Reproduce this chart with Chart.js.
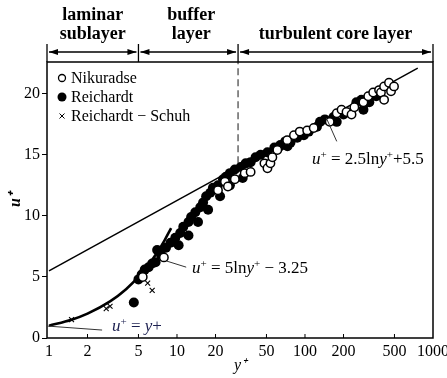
<!DOCTYPE html>
<html>
<head>
<meta charset="utf-8">
<script src="https://cdn.jsdelivr.net/npm/chart.js@4.4.0/dist/chart.umd.min.js"></script>
<style>
body { margin: 0; background: #fff; }
canvas { display: block; }
</style>
</head>
<body>
<canvas id="chart" width="447" height="378"></canvas>
<script>
let xTicks = [1, 2, 5, 10, 20, 50, 100, 200, 500, 1000];
let yTicks = [0, 5, 10, 15, 20];

// [y+, u+]
let nikuradse = [[5.4, 5.0], [7.9, 6.6], [20.9, 12.1], [23.7, 12.8], [25, 12.4], [28.3, 13.0],
    [33.8, 13.5], [37.6, 13.6], [48.2, 14.3], [50.9, 13.9], [53.7, 14.3], [55.6, 14.8],
    [60.8, 15.4], [72.6, 16.2], [82, 16.6], [91, 16.9], [104, 17.0], [117, 17.2],
    [156, 17.7], [177, 18.4], [193, 18.7], [211, 18.5], [231, 18.3], [243, 18.9],
    [286, 19.3], [312, 19.8], [341, 20.1], [379, 20.3], [392, 20.1], [415, 20.6],
    [415, 19.5], [453, 20.9], [470, 20.2], [496, 20.6]];

let reichardt = [[4.6, 2.9], [5.0, 4.8], [5.3, 5.2], [5.6, 5.6], [6.0, 5.8], [6.4, 6.1],
    [6.8, 6.2], [7.0, 7.2], [7.5, 6.8], [8.2, 7.4], [8.9, 7.8], [9.7, 8.2], [10.3, 7.6],
    [10.6, 8.6], [11.2, 9.1], [12.3, 9.5], [12.3, 8.4], [12.9, 9.9], [13.9, 10.3],
    [14.6, 9.5], [15.2, 10.7], [16, 11.1], [16.9, 11.6], [17.5, 10.5], [18.2, 11.9],
    [19.1, 12.3], [20.9, 12.5], [21.7, 11.6], [22.9, 13.0], [24.1, 13.2], [25.9, 13.5],
    [25.9, 12.5], [28.3, 13.8], [31.5, 14.0], [32.6, 13.1], [34.4, 14.3], [37.6, 14.4],
    [41.1, 14.8], [45, 15.0], [50.9, 15.2], [57.6, 15.6], [64, 15.7], [64.1, 15.8],
    [70.1, 16.1], [73, 15.7], [77, 16.0], [87, 16.4], [98, 16.6], [107, 16.9],
    [124, 17.3], [131, 17.7], [143, 17.9], [167, 18.1], [177, 17.7], [200, 18.3],
    [252, 19.3], [276, 19.5], [286, 18.7], [301, 19.3], [318, 19.3], [360, 19.8]];

let reichardtSchuh = [[1.5, 1.5], [2.8, 2.4], [3.0, 2.6], [5.9, 4.5], [6.4, 3.9]];

let laminarLine = [[1, 1], [1.5, 1.5], [2, 2], [3, 3], [4, 4], [5, 5], [6, 6], [7, 7], [8, 8], [9, 9]];
let logLawLine = [[1, 5.5], [760, 22.1]];
let dividerLine = [[30, 14.3], [30, 22.6]];

let zoneNames = [["laminar", "sublayer"], ["buffer", "layer"], ["turbulent core layer"]];
let zoneEdges = [0.965, 5, 30, 1000];

const serif = '"Liberation Serif", "Times New Roman", serif';

function toPoints(arr) {
    return arr.map(p => ({ x: p[0], y: p[1] }));
}

function drawArrowHead(ctx, x, y, dir) {
    ctx.beginPath();
    ctx.moveTo(x, y);
    ctx.lineTo(x - dir * 9, y - 3);
    ctx.lineTo(x - dir * 9, y + 3);
    ctx.closePath();
    ctx.fill();
}

function drawEquation(ctx, parts, x, y, color) {
    ctx.fillStyle = color;
    ctx.textBaseline = "alphabetic";
    ctx.textAlign = "left";
    parts.forEach(p => {
        let size = p.sup ? 11 : 17;
        ctx.font = (p.it ? "italic " : "") + size + "px " + serif;
        ctx.fillText(p.t, x, p.sup ? y - 6 : y);
        x += ctx.measureText(p.t).width;
    });
}

const decor = {
    id: "decor",
    afterDatasetsDraw(chart) {
        let ctx = chart.ctx;
        let a = chart.chartArea;
        let xs = chart.scales.x;
        let ys = chart.scales.y;
        ctx.save();

        // frame
        ctx.strokeStyle = "#000";
        ctx.lineWidth = 1.5;
        ctx.strokeRect(a.left, a.top, a.right - a.left, a.bottom - a.top);

        // inward x ticks
        ctx.lineWidth = 1;
        xTicks.forEach(v => {
            let px = xs.getPixelForValue(v);
            if (px > a.left + 2 && px < a.right - 2) {
                ctx.beginPath();
                ctx.moveTo(px, a.bottom);
                ctx.lineTo(px, a.bottom - 4);
                ctx.stroke();
            }
        });

        // zone arrows on top
        let ay = 52;
        ctx.fillStyle = "#000";
        ctx.lineWidth = 1.3;
        let edgePx = zoneEdges.map(v => xs.getPixelForValue(v));
        edgePx.forEach(px => {
            ctx.beginPath();
            ctx.moveTo(px, 44);
            ctx.lineTo(px, a.top);
            ctx.stroke();
        });
        for (let i = 0; i < edgePx.length - 1; i++) {
            let l = edgePx[i] + 2, r = edgePx[i + 1] - 2;
            ctx.beginPath();
            ctx.moveTo(l, ay);
            ctx.lineTo(r, ay);
            ctx.stroke();
            drawArrowHead(ctx, l, ay, -1);
            drawArrowHead(ctx, r, ay, 1);
        }

        // zone names
        ctx.font = "bold 18px " + serif;
        ctx.textAlign = "center";
        ctx.textBaseline = "alphabetic";
        zoneNames.forEach((lines, i) => {
            let cx = (edgePx[i] + edgePx[i + 1]) / 2;
            if (i == 1) cx += 3;
            let y0 = lines.length == 2 ? 20 : 39;
            lines.forEach((t, k) => ctx.fillText(t, cx, y0 + k * 19));
        });

        // legend
        let lx = 62;
        let legendY = [78, 97, 116];
        ctx.lineWidth = 1.3;
        ctx.beginPath();
        ctx.arc(lx, legendY[0], 3.5, 0, Math.PI * 2);
        ctx.fillStyle = "#fff";
        ctx.fill();
        ctx.stroke();
        ctx.beginPath();
        ctx.arc(lx, legendY[1], 4.5, 0, Math.PI * 2);
        ctx.fillStyle = "#000";
        ctx.fill();
        ctx.lineWidth = 1;
        ctx.beginPath();
        ctx.moveTo(lx - 2.5, legendY[2] - 2.5); ctx.lineTo(lx + 2.5, legendY[2] + 2.5);
        ctx.moveTo(lx + 2.5, legendY[2] - 2.5); ctx.lineTo(lx - 2.5, legendY[2] + 2.5);
        ctx.stroke();
        ctx.font = "16px " + serif;
        ctx.textAlign = "left";
        ctx.textBaseline = "middle";
        chart.data.datasets.slice(0, 3).forEach((d, i) => {
            ctx.fillText(d.label, lx + 9, legendY[i] + 1);
        });

        // leader lines
        ctx.strokeStyle = "#333";
        ctx.lineWidth = 1;
        [[[0.965, 0.98], [2.6, 0.65]], [[8.3, 6.3], [11.8, 5.8]], [[147, 18.0], [177, 16.1]]].forEach(s => {
            ctx.beginPath();
            ctx.moveTo(xs.getPixelForValue(s[0][0]), ys.getPixelForValue(s[0][1]));
            ctx.lineTo(xs.getPixelForValue(s[1][0]), ys.getPixelForValue(s[1][1]));
            ctx.stroke();
        });

        // equations
        drawEquation(ctx, [{ t: "u", it: true }, { t: "+", sup: true }, { t: " = " }, { t: "y", it: true }, { t: "+" }],
            112, 331, "#1c2050");
        drawEquation(ctx, [{ t: "u", it: true }, { t: "+", sup: true }, { t: " = 5ln" }, { t: "y", it: true }, { t: "+", sup: true }, { t: " \u2212 3.25" }],
            192, 273, "#000");
        drawEquation(ctx, [{ t: "u", it: true }, { t: "+", sup: true }, { t: " = 2.5ln" }, { t: "y", it: true }, { t: "+", sup: true }, { t: "+5.5" }],
            312, 164, "#000");

        ctx.restore();
    }
};

function createChart() {
    let ctx = document.getElementById("chart");
    new Chart(ctx, {
        type: "scatter",
        data: {
            datasets: [{
                label: "Nikuradse",
                data: toPoints(nikuradse),
                pointStyle: "circle",
                pointRadius: 4.2,
                backgroundColor: "#fff",
                borderColor: "#000",
                borderWidth: 1.5,
                order: 1
            }, {
                label: "Reichardt",
                data: toPoints(reichardt),
                pointStyle: "circle",
                pointRadius: 5,
                backgroundColor: "#000",
                borderColor: "#000",
                borderWidth: 0,
                order: 2
            }, {
                label: "Reichardt \u2212 Schuh",
                data: toPoints(reichardtSchuh),
                pointStyle: "crossRot",
                pointRadius: 3.5,
                borderColor: "#000",
                borderWidth: 1.1,
                order: 0
            }, {
                label: "u+ = y+",
                data: toPoints(laminarLine),
                showLine: true,
                borderColor: "#000",
                borderWidth: 2.6,
                pointRadius: 0,
                cubicInterpolationMode: "monotone",
                order: 5
            }, {
                label: "u+ = 2.5 ln y+ + 5.5",
                data: toPoints(logLawLine),
                showLine: true,
                borderColor: "#000",
                borderWidth: 1.5,
                pointRadius: 0,
                order: 6
            }, {
                label: "y+ = 30",
                data: toPoints(dividerLine),
                showLine: true,
                borderColor: "#666",
                borderWidth: 1.5,
                borderDash: [7, 4],
                pointRadius: 0,
                order: 7
            }]
        },
        options: {
            responsive: false,
            animation: false,
            layout: { padding: { top: 62, right: 14, left: 0, bottom: 0 } },
            plugins: {
                legend: { display: false },
                tooltip: { enabled: false }
            },
            scales: {
                x: {
                    type: "logarithmic",
                    min: 0.965,
                    max: 1000,
                    afterBuildTicks: s => { s.ticks = xTicks.map(v => ({ value: v })); },
                    afterFit: s => {
                        s.height = 40;
                        s.paddingLeft = 0;
                        s.paddingRight = 0;
                    },
                    ticks: {
                        callback: v => String(v),
                        autoSkip: false,
                        maxRotation: 0,
                        padding: 4,
                        color: "#000",
                        font: { family: serif, size: 16 }
                    },
                    grid: { display: false, drawTicks: false },
                    border: { display: false },
                    title: {
                        display: true,
                        text: "y\u207A",
                        color: "#000",
                        padding: { top: 0, bottom: 3 },
                        font: { family: serif, size: 16, style: "italic" }
                    }
                },
                y: {
                    min: 0,
                    max: 22.6,
                    afterBuildTicks: s => { s.ticks = yTicks.map(v => ({ value: v })); },
                    afterFit: s => {
                        s.width = 47;
                        s.paddingTop = 0;
                        s.paddingBottom = 0;
                    },
                    ticks: {
                        padding: 2,
                        color: "#000",
                        font: { family: serif, size: 16 }
                    },
                    grid: { drawOnChartArea: false, tickLength: 5, color: "#000", lineWidth: 1 },
                    border: { display: false },
                    title: {
                        display: true,
                        text: "u\u207A",
                        color: "#000",
                        padding: { top: 6, bottom: 0 },
                        font: { family: serif, size: 16, style: "italic", weight: "bold" }
                    }
                }
            }
        },
        plugins: [decor]
    });
}

createChart();
</script>
</body>
</html>
